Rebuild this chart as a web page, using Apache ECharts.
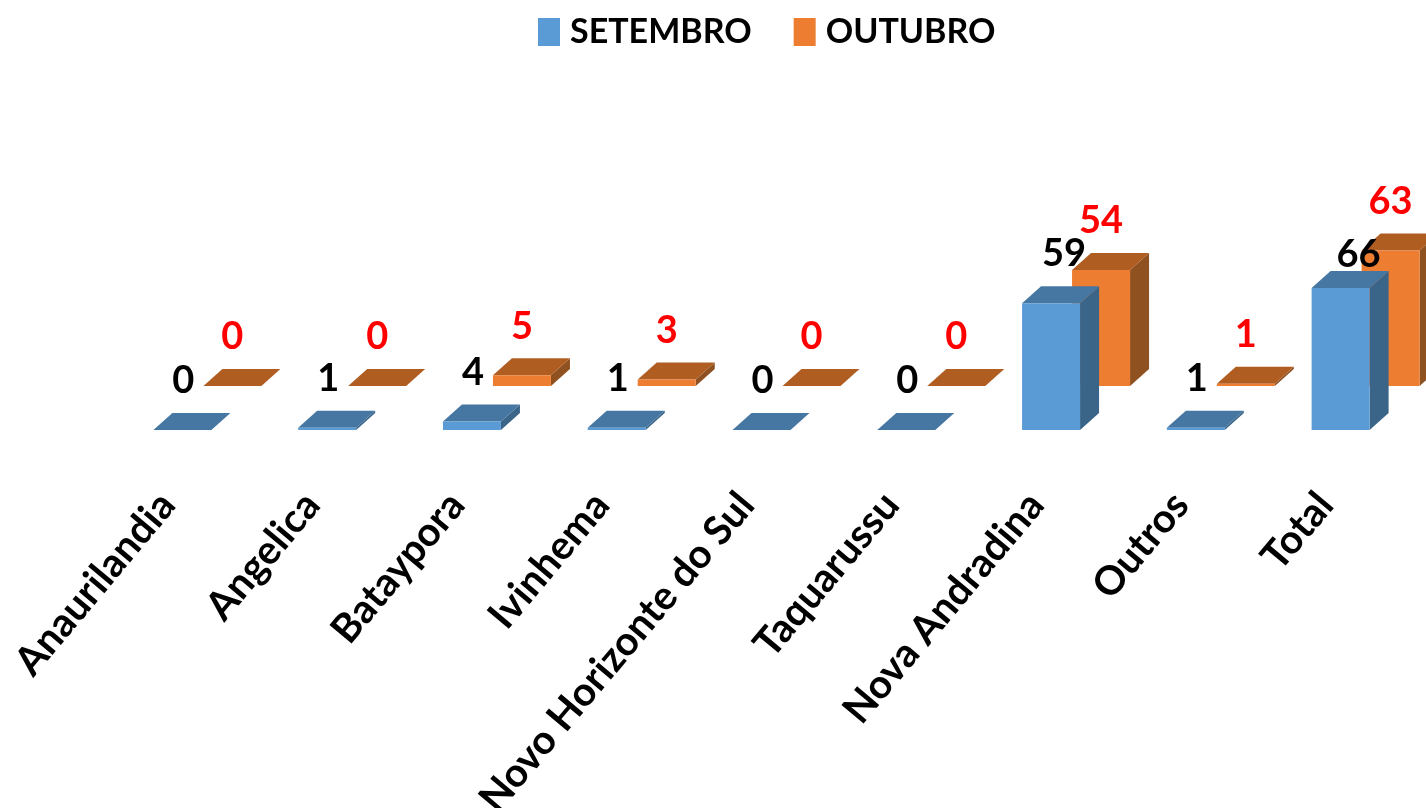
<!DOCTYPE html>
<html>
<head>
<meta charset="utf-8">
<style>
  html, body { margin: 0; padding: 0; background: #fff; }
  #chart { width: 1426px; height: 808px; }
</style>
<script src="https://cdn.jsdelivr.net/npm/echarts@6/dist/echarts.min.js"></script>
</head>
<body>
<div id="chart"></div>
<script>
const categories = ['Anaurilandia', 'Angelica', 'Bataypora', 'Ivinhema', 'Novo Horizonte do Sul', 'Taquarussu', 'Nova Andradina', 'Outros', 'Total']
const setembro = [0, 1, 4, 1, 0, 0, 59, 1, 66]
const outubro = [0, 0, 5, 3, 0, 0, 54, 1, 63]

const font = 'Lato'
const barWidth = 58
const depthX = 19
const depthY = 17

// the source chart nudged the two double digit black labels by hand
const blackNudge = { 6: [12, 0], 8: [17, 16] }

function bar3d(opts) {
  return function(params, api) {
    const i = api.value(0)
    const base = api.coord([i, 0])
    const top = api.coord([i, api.value(1)])
    const x0 = base[0] + opts.dx
    const x1 = x0 + barWidth
    const yb = base[1] + opts.dy
    const yt = top[1] + opts.dy
    const nudge = (opts.nudge && opts.nudge[i]) || [0, 0]
    const shape = pts => ({ points: pts })
    return {
      type: 'group',
      children: [
        { type: 'polygon', shape: shape([[x1, yb], [x1 + depthX, yb - depthY], [x1 + depthX, yt - depthY], [x1, yt]]), style: { fill: opts.side } },
        { type: 'polygon', shape: shape([[x0, yt], [x1, yt], [x1 + depthX, yt - depthY], [x0 + depthX, yt - depthY]]), style: { fill: opts.top } },
        { type: 'rect', shape: { x: x0, y: yt, width: barWidth, height: yb - yt }, style: { fill: opts.front } },
        {
          type: 'text',
          z2: 10,
          style: {
            x: x0 + opts.labelDx + nudge[0],
            y: yt - 49 + nudge[1],
            text: String(api.value(1)),
            fill: opts.labelColor,
            font: 'bold 38px ' + font,
            textAlign: 'center',
            textVerticalAlign: 'middle'
          }
        }
      ]
    }
  }
}

const chart = echarts.init(document.getElementById('chart'), null, { renderer: 'canvas' })

chart.setOption({
  animation: false,
  backgroundColor: '#fff',
  legend: {
    data: ['SETEMBRO', 'OUTUBRO'],
    left: 533,
    top: 10,
    icon: 'rect',
    itemWidth: 22,
    itemHeight: 28,
    itemGap: 42,
    textStyle: { fontFamily: font, fontWeight: 'bold', fontSize: 34, color: '#000', padding: [0, 0, 0, 5] }
  },
  grid: { left: 95, width: 1303, top: 215, height: 215, outerBoundsMode: 'none' },
  xAxis: {
    type: 'category',
    data: categories,
    axisLine: { show: false },
    axisTick: { show: false },
    axisLabel: {
      interval: 0,
      rotate: 50,
      margin: 68,
      fontFamily: font,
      fontWeight: 'bold',
      fontSize: 40,
      color: '#000'
    }
  },
  yAxis: { type: 'value', min: 0, max: 100, show: false },
  series: [
    {
      name: 'SETEMBRO',
      type: 'custom',
      z: 3,
      itemStyle: { color: '#5B9BD5' },
      encode: { x: 0, y: 1 },
      data: setembro.map((v, i) => [i, v]),
      renderItem: bar3d({ dx: -14, dy: 0, front: '#5B9BD5', top: '#4677A3', side: '#3A6589', labelColor: '#000', labelDx: 30, nudge: blackNudge })
    },
    {
      name: 'OUTUBRO',
      type: 'custom',
      z: 2,
      itemStyle: { color: '#ED7D31' },
      encode: { x: 0, y: 1 },
      data: outubro.map((v, i) => [i, v]),
      renderItem: bar3d({ dx: 36, dy: -44, front: '#ED7D31', top: '#B05D22', side: '#8F5120', labelColor: '#FF0000', labelDx: 29 })
    }
  ]
})
</script>
</body>
</html>
